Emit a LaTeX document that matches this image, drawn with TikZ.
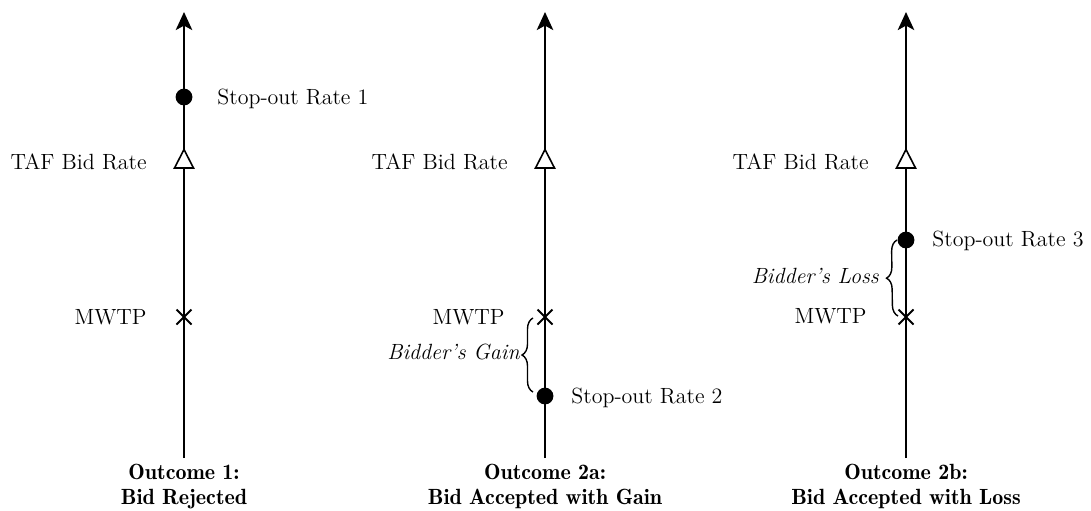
\documentclass[tikz,border=0pt]{standalone}
\usetikzlibrary{arrows.meta,decorations.pathreplacing,shapes.misc}
\begin{document}
\begin{tikzpicture}[x=0.5pt,y=-0.5pt,
  axisline/.style={line width=1.3pt,-{Stealth[length=9pt,width=8.2pt,inset=2.2pt]}},
  dot/.style={circle,fill=black,inner sep=0pt,minimum size=8.4pt},
  xmark/.style={cross out,draw=black,line width=1pt,inner sep=0pt,minimum size=6.5pt},
  lbl/.style={inner sep=0pt,font=\fontsize{11}{13}\selectfont},
  ilbl/.style={inner sep=0pt,font=\fontsize{11}{13}\selectfont\itshape},
  outlbl/.style={inner sep=0pt,align=center,anchor=north,font=\fontsize{11}{12.5}\fontseries{b}\selectfont},
  bracestyle/.style={decorate,decoration={brace,amplitude=5.5pt},line width=0.7pt},
  tri/.pic={\draw[line width=0.8pt,fill=white] (0,-9.5) -- (9.5,9) -- (-9.5,9) -- cycle;}
]
\useasboundingbox (0,0) rectangle (1091,510);

% ---------- Panel 1
\coordinate (b1) at (184,458);
\coordinate (t1) at (184,12);
\draw[axisline] (b1) -- (t1);
\node[dot] (s1) at (184,97) {};
\pic (tri1) at (184,159) {tri};
\node[xmark] (m1) at (184,317) {};
\node[lbl,anchor=base west] (s1l) at (217,104) {Stop-out Rate 1};
\node[lbl,anchor=base east] (taf1) at (147,169) {TAF Bid Rate};
\node[lbl,anchor=base east] (m1l) at (147,324) {MWTP};
\node[outlbl] (o1) at (184,464) {Outcome 1:\\Bid Rejected};

% ---------- Panel 2
\coordinate (b2) at (545,458);
\coordinate (t2) at (545,12);
\draw[axisline] (b2) -- (t2);
\pic (tri2) at (545,159) {tri};
\node[xmark] (m2) at (545,317) {};
\node[dot] (s2) at (545,396) {};
\node[lbl,anchor=base west] (s2l) at (571,403) {Stop-out Rate 2};
\node[lbl,anchor=base east] (taf2) at (508,169) {TAF Bid Rate};
\node[lbl,anchor=base east] (m2l) at (505,324) {MWTP};
\coordinate (g2b) at (533,392);
\coordinate (g2t) at (533,318);
\draw[bracestyle] (g2b) -- (g2t);
\node[ilbl,anchor=base east] (gain) at (520,359) {Bidder's Gain};
\node[outlbl] (o2) at (545,464) {Outcome 2a:\\Bid Accepted with Gain};

% ---------- Panel 3
\coordinate (b3) at (906,458);
\coordinate (t3) at (906,12);
\draw[axisline] (b3) -- (t3);
\pic (tri3) at (906,159) {tri};
\node[dot] (s3) at (906,240) {};
\node[xmark] (m3) at (906,317) {};
\node[lbl,anchor=base west] (s3l) at (932,246) {Stop-out Rate 3};
\node[lbl,anchor=base east] (taf3) at (869,169) {TAF Bid Rate};
\node[lbl,anchor=base east] (m3l) at (867,323) {MWTP};
\coordinate (l3b) at (898,316);
\coordinate (l3t) at (897,240);
\draw[bracestyle] (l3b) -- (l3t);
\node[ilbl,anchor=base east] (loss) at (879,283) {Bidder's Loss};
\node[outlbl] (o3) at (906,464) {Outcome 2b:\\Bid Accepted with Loss};
\end{tikzpicture}
\end{document}
